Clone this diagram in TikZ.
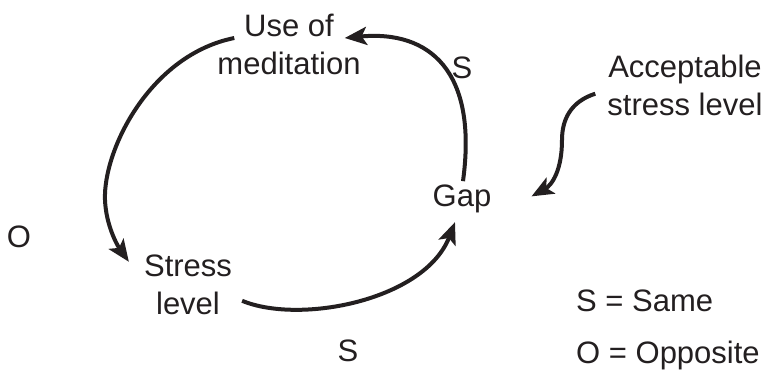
\documentclass[tikz,border=0pt]{standalone}
\usepackage{fontspec}
\setmainfont{Liberation Sans}
\usetikzlibrary{arrows.meta,calc}
\definecolor{ink}{HTML}{231F20}
\begin{document}
\begin{tikzpicture}[x=1pt,y=-1pt,
  lbl/.style={inner sep=0pt, font=\fontsize{31}{38}\selectfont, text=ink, align=center},
  link/.style={draw=ink, line width=4pt, -{Stealth[length=22pt,width=18pt,inset=5pt]}}]
\useasboundingbox (0,0) rectangle (769,374);
% nodes
\node[lbl] (use) at (289,44.7) {Use of\\meditation};
\node[lbl] (stress) at (188,284.8) {Stress\\level};
\node[lbl, anchor=base] (gap) at (462,207) {Gap};
\node[lbl] (accept) at (685,85.7) {Acceptable\\stress level};
% polarity labels
\node[lbl, anchor=base] (s1) at (462,79) {S};
\node[lbl, anchor=base] (s2) at (348,361) {S};
\node[lbl, anchor=base] (o1) at (19,248) {O};
\node[lbl, anchor=base west] (leg1) at (576,312) {S = Same};
\node[lbl, anchor=base west] (leg2) at (576,363) {O = Opposite};
% connectors
\draw[link] ($(gap.north)+(1,-4)$) .. controls +(15,-110) and +(85,-8) .. ($(use.east)+(-16,-6.7)$);
\draw[link] ($(use.west)+(17,-6.7)$) .. controls (150,55) and (103,150) .. (105,200)
  .. controls (106,225) and (117,245) .. ($(stress.west)+(-15,-23)$);
\draw[link] ($(stress.east)+(10,16)$) .. controls +(58,24) and +(-30,78) .. ($(gap.south)+(-7,8.5)$);
\draw[link] ($(accept.west)+(-12,8)$) .. controls +(-25,8) and +(0,-20) .. (562,140)
  .. controls (562,170) and (552,185) .. ($(gap.east)+(40,-3)$);
\end{tikzpicture}
\end{document}
